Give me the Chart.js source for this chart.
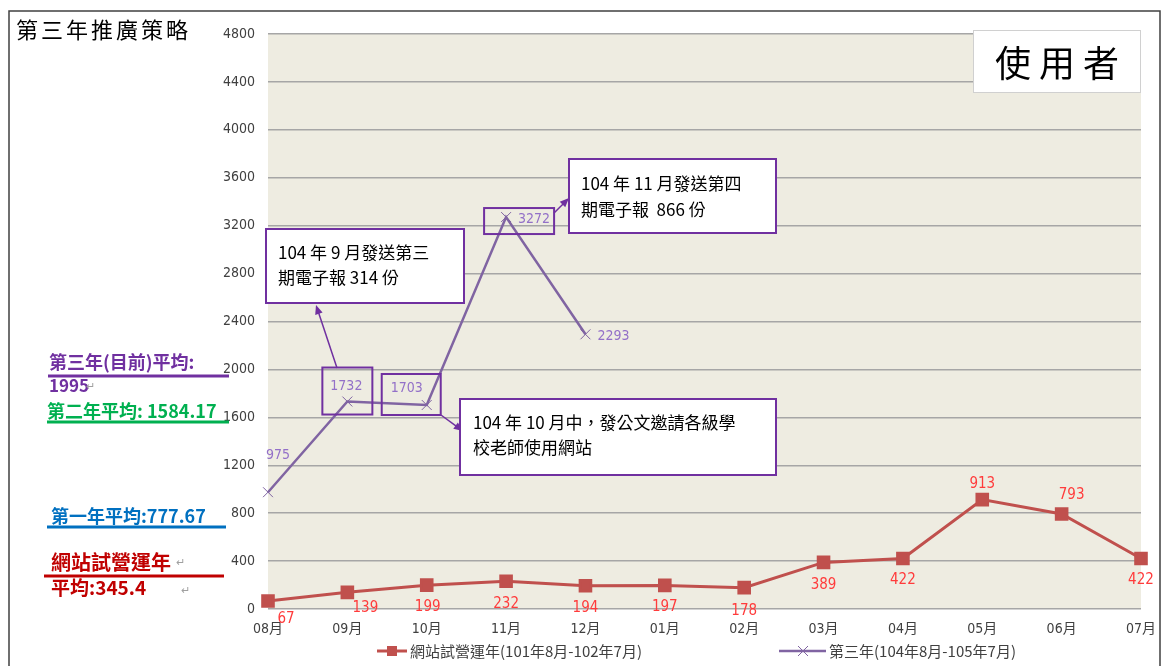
<!DOCTYPE html>
<html>
<head>
<meta charset="utf-8">
<script src="https://cdn.jsdelivr.net/npm/chart.js@4"></script>
<style>
  html, body { margin: 0; padding: 0; background: #ffffff; }
  #wrap { position: relative; width: 1162px; height: 666px; }
</style>
</head>
<body>
<div id="wrap"><canvas id="usageChart" width="1162" height="666"></canvas></div>
<script>
const months = ['08月', '09月', '10月', '11月', '12月', '01月', '02月', '03月', '04月', '05月', '06月', '07月'];
const trialYearUsers = [67, 139, 199, 232, 194, 197, 178, 389, 422, 913, 793, 422];
const thirdYearUsers = [975, 1732, 1703, 3272, 2293, null, null, null, null, null, null, null];
const trialYearName = '網站試營運年(101年8月-102年7月)';
const thirdYearName = '第三年(104年8月-105年7月)';
const yMin = 0;
const yMax = 4800;
const yStep = 400;

// where each value label sits relative to its point (dx, dy in px)
const trialLabelOffsets = [[18, 18], [18, 16], [1, 22], [0, 23], [0, 22], [0, 22], [0, 23], [0, 23], [0, 22], [0, -16], [10, -19], [0, 22]];
const thirdLabelOffsets = [[10, -37], [-1, -15], [-20, -17], [28, 2], [28, 2]];

const cjkFont = '"Noto Sans CJK TC", "Noto Sans", sans-serif';
const numFont = '"Liberation Sans Narrow", "DejaVu Sans Condensed", "Noto Sans CJK TC", sans-serif';

const noteBoxes = [
  { x: 266, y: 229, w: 198, h: 74, tx: 278, lines: [['104 年 9 月發送第三', 253], ['期電子報 314 份', 278]] },
  { x: 569, y: 159, w: 207, h: 74, tx: 581, lines: [['104 年 11 月發送第四', 184], ['期電子報  866 份', 210]] },
  { x: 460, y: 399, w: 316, h: 76, tx: 473, lines: [['104 年 10 月中，發公文邀請各級學', 423], ['校老師使用網站', 448]] },
];

// small outline boxes around points of the third-year series
const pointBoxes = [
  { index: 1, dx: -25, dy: -34, w: 50, h: 47 },
  { index: 2, dx: -45, dy: -31, w: 59, h: 41 },
  { index: 3, dx: -22, dy: -9, w: 70, h: 26 },
];

const arrows = [
  [337, 368, 316, 305],
  [441, 415, 463, 431],
  [554, 213, 569, 198],
];

const sideNotes = [
  { text: '第三年(目前)平均:', color: '#7030A0', x: 49, y: 362, size: 18 },
  { text: '1995', color: '#7030A0', x: 49, y: 386, size: 17 },
  { text: '第二年平均: 1584.17', color: '#00B050', x: 47, y: 411, size: 18 },
  { text: '第一年平均:777.67', color: '#0070C0', x: 51, y: 516, size: 18 },
  { text: '網站試營運年', color: '#C00000', x: 51, y: 562, size: 20 },
  { text: '平均:345.4', color: '#C00000', x: 51, y: 588, size: 19 },
];

const sideLines = [
  { color: '#7030A0', x1: 48, x2: 229, y: 376 },
  { color: '#00B050', x1: 47, x2: 229, y: 422 },
  { color: '#0070C0', x1: 47, x2: 226, y: 527 },
  { color: '#C00000', x1: 44, x2: 224, y: 576 },
];

const returnMarks = [[86, 386], [176, 562], [181, 590]];

function drawArrow(ctx, x1, y1, x2, y2) {
  const angle = Math.atan2(y2 - y1, x2 - x1);
  const head = 10;
  ctx.beginPath();
  ctx.moveTo(x1, y1);
  ctx.lineTo(x2 - Math.cos(angle) * head * 0.8, y2 - Math.sin(angle) * head * 0.8);
  ctx.stroke();
  ctx.beginPath();
  ctx.moveTo(x2, y2);
  ctx.lineTo(x2 - head * Math.cos(angle - 0.4), y2 - head * Math.sin(angle - 0.4));
  ctx.lineTo(x2 - head * Math.cos(angle + 0.4), y2 - head * Math.sin(angle + 0.4));
  ctx.closePath();
  ctx.fill();
}

const backgroundPlugin = {
  id: 'background',
  beforeDraw(chart) {
    const { ctx, chartArea } = chart;
    ctx.save();
    ctx.fillStyle = '#ffffff';
    ctx.fillRect(0, 0, chart.width, chart.height);
    ctx.fillStyle = '#EEECE1';
    ctx.fillRect(chartArea.left, chartArea.top, chartArea.right - chartArea.left, chartArea.bottom - chartArea.top);
    ctx.restore();
  },
};

const labelsPlugin = {
  id: 'valueLabels',
  afterDatasetsDraw(chart) {
    const { ctx } = chart;
    ctx.save();
    ctx.textAlign = 'center';
    ctx.textBaseline = 'middle';

    ctx.font = '15px ' + numFont;
    ctx.fillStyle = '#FF3B3B';
    chart.getDatasetMeta(0).data.forEach((pt, i) => {
      const [dx, dy] = trialLabelOffsets[i];
      ctx.fillText(String(trialYearUsers[i]), pt.x + dx, pt.y + dy);
    });

    ctx.font = '14px ' + numFont;
    ctx.fillStyle = '#9370C8';
    chart.getDatasetMeta(1).data.forEach((pt, i) => {
      if (thirdYearUsers[i] === null) return;
      const [dx, dy] = thirdLabelOffsets[i];
      ctx.fillText(String(thirdYearUsers[i]), pt.x + dx, pt.y + dy);
    });
    ctx.restore();
  },
};

const notesPlugin = {
  id: 'notes',
  afterDraw(chart) {
    const { ctx } = chart;
    ctx.save();

    // outer frame
    ctx.strokeStyle = '#404040';
    ctx.lineWidth = 1.5;
    ctx.beginPath();
    ctx.moveTo(9, 700);
    ctx.lineTo(9, 11);
    ctx.lineTo(1160, 11);
    ctx.lineTo(1160, 700);
    ctx.stroke();

    // title
    ctx.fillStyle = '#000000';
    ctx.font = '22px ' + cjkFont;
    ctx.textBaseline = 'middle';
    ctx.textAlign = 'left';
    ctx.letterSpacing = '3px';
    ctx.fillText('第三年推廣策略', 16, 30);

    // 使用者 box
    ctx.fillStyle = '#ffffff';
    ctx.fillRect(973, 30, 167, 62);
    ctx.strokeStyle = '#D0D0D0';
    ctx.lineWidth = 1;
    ctx.strokeRect(973.5, 30.5, 167, 62);
    ctx.fillStyle = '#000000';
    ctx.font = '36px ' + cjkFont;
    ctx.letterSpacing = '8px';
    ctx.textAlign = 'center';
    ctx.fillText('使用者', 1061, 63);
    ctx.letterSpacing = '0px';

    // point highlight boxes
    const meta = chart.getDatasetMeta(1);
    ctx.strokeStyle = '#7030A0';
    ctx.lineWidth = 2;
    pointBoxes.forEach((b) => {
      const pt = meta.data[b.index];
      ctx.strokeRect(pt.x + b.dx, pt.y + b.dy, b.w, b.h);
    });

    // arrows
    ctx.fillStyle = '#7030A0';
    ctx.lineWidth = 1.5;
    arrows.forEach(([x1, y1, x2, y2]) => drawArrow(ctx, x1, y1, x2, y2));

    // callout boxes
    noteBoxes.forEach((b) => {
      ctx.fillStyle = '#ffffff';
      ctx.fillRect(b.x, b.y, b.w, b.h);
      ctx.strokeStyle = '#7030A0';
      ctx.lineWidth = 2;
      ctx.strokeRect(b.x, b.y, b.w, b.h);
      ctx.fillStyle = '#000000';
      ctx.font = '17px ' + cjkFont;
      ctx.textAlign = 'left';
      b.lines.forEach(([text, y]) => ctx.fillText(text, b.tx, y));
    });

    // averages on the left
    ctx.textAlign = 'left';
    sideNotes.forEach((n) => {
      ctx.fillStyle = n.color;
      ctx.font = 'bold ' + n.size + 'px ' + cjkFont;
      ctx.fillText(n.text, n.x, n.y);
    });
    sideLines.forEach((l) => {
      ctx.strokeStyle = l.color;
      ctx.lineWidth = 3;
      ctx.beginPath();
      ctx.moveTo(l.x1, l.y);
      ctx.lineTo(l.x2, l.y);
      ctx.stroke();
    });
    ctx.fillStyle = '#A0A0A0';
    ctx.font = '11px ' + cjkFont;
    returnMarks.forEach(([x, y]) => ctx.fillText('↵', x, y));

    // legend
    const ly = 651;
    ctx.font = '15px ' + cjkFont;
    ctx.fillStyle = '#404040';
    ctx.strokeStyle = '#C0504D';
    ctx.lineWidth = 3;
    ctx.beginPath();
    ctx.moveTo(377, ly);
    ctx.lineTo(407, ly);
    ctx.stroke();
    ctx.fillStyle = '#C0504D';
    ctx.fillRect(387, ly - 5, 10, 10);
    ctx.fillStyle = '#404040';
    ctx.fillText(trialYearName, 410, ly);

    ctx.strokeStyle = '#8064A2';
    ctx.lineWidth = 2.5;
    ctx.beginPath();
    ctx.moveTo(779, ly);
    ctx.lineTo(826, ly);
    ctx.stroke();
    ctx.lineWidth = 1;
    ctx.beginPath();
    ctx.moveTo(798, ly - 5);
    ctx.lineTo(808, ly + 5);
    ctx.moveTo(808, ly - 5);
    ctx.lineTo(798, ly + 5);
    ctx.stroke();
    ctx.fillText(thirdYearName, 829, ly);

    ctx.restore();
  },
};

new Chart(document.getElementById('usageChart'), {
  type: 'line',
  data: {
    labels: months,
    datasets: [
      {
        label: trialYearName,
        data: trialYearUsers,
        borderColor: '#C0504D',
        backgroundColor: '#C0504D',
        borderWidth: 3,
        tension: 0,
        pointStyle: 'rect',
        pointRadius: 7.5,
        pointBorderColor: '#C0504D',
        pointBackgroundColor: '#C0504D',
      },
      {
        label: thirdYearName,
        data: thirdYearUsers,
        borderColor: '#8064A2',
        backgroundColor: '#8064A2',
        borderWidth: 2.5,
        tension: 0,
        pointStyle: 'crossRot',
        pointRadius: 7,
        pointBorderWidth: 1,
        pointBorderColor: '#8064A2',
      },
    ],
  },
  options: {
    responsive: false,
    animation: false,
    layout: { padding: { left: 200, top: 34, right: 21, bottom: 0 } },
    plugins: {
      legend: { display: false },
      tooltip: { enabled: false },
    },
    scales: {
      x: {
        offset: false,
        grid: { display: false, drawTicks: false },
        border: { display: false },
        ticks: { color: '#404040', font: { size: 14, family: numFont }, padding: 12, maxRotation: 0 },
        afterFit(scale) {
          scale.height = 57;
          scale.paddingLeft = 0;
          scale.paddingRight = 0;
        },
      },
      y: {
        min: yMin,
        max: yMax,
        grid: { color: '#A6A6A6', lineWidth: 1.5, drawTicks: false },
        border: { display: false },
        ticks: {
          stepSize: yStep,
          color: '#404040',
          font: { size: 14, family: numFont },
          padding: 13,
          callback: (value) => String(value),
        },
        afterFit(scale) { scale.width = 68; },
      },
    },
  },
  plugins: [backgroundPlugin, labelsPlugin, notesPlugin],
});
</script>
</body>
</html>
